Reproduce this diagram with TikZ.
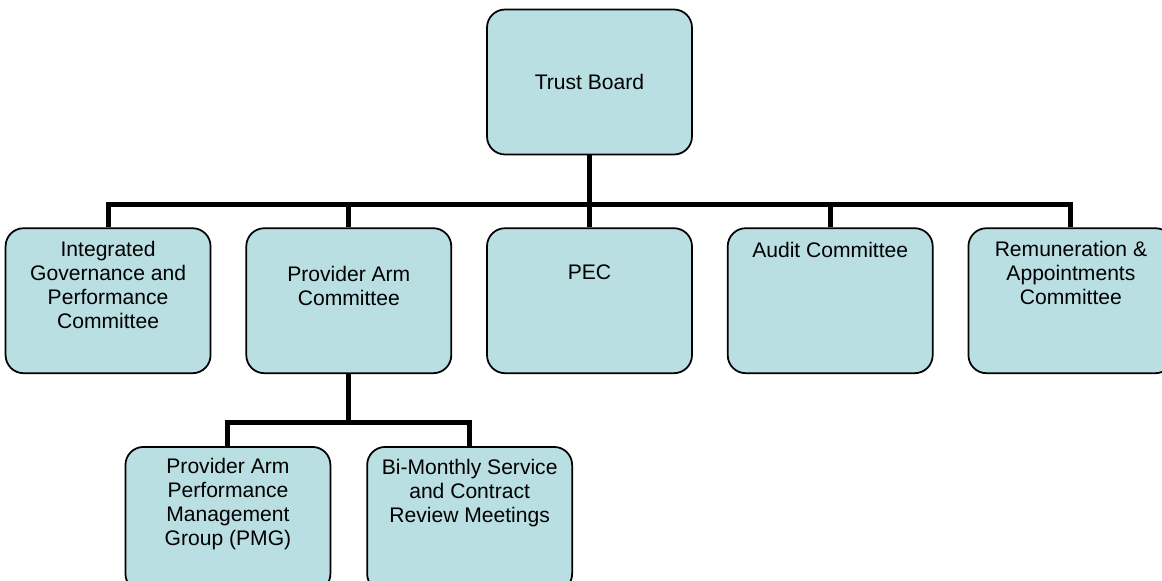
\documentclass[tikz,border=0pt]{standalone}
\usepackage{fontspec}
\setmainfont{Liberation Sans}
\usetikzlibrary{positioning,calc}
\definecolor{boardblue}{RGB}{185,223,227}

\begin{document}
\begin{tikzpicture}[
  x=0.02cm, y=-0.02cm,
  node distance=1.44cm and 0.68cm,
  every node/.style={font=\fontsize{12}{13.7}\selectfont},
  unit/.style={rectangle,rounded corners=0.36cm,draw=black,line width=1pt,
    fill=boardblue,minimum width=4.1cm,minimum height=2.9cm,inner sep=0pt},
  caption/.style={align=center,inner sep=0pt},
  link/.style={line width=2.8pt,black}
]
\clip (0,0) rectangle (1162,581);
\node[unit] (board) at (589.5,82) {Trust Board};
\node[unit,below=of board] (pec) {};
\node[unit,left=of pec] (pac) {};
\node[unit,left=of pac] (igpc) {};
\node[unit,right=of pec] (audit) {};
\node[unit,right=of audit] (remun) {};
\node[unit,below left=1.44cm and 0.35cm of pac.south,anchor=north east] (pmg) {};
\node[unit,below right=1.44cm and 0.35cm of pac.south,anchor=north west] (review) {};

\node[caption,below=0.27cm of igpc.north] (igpc-t) {Integrated\\Governance and\\Performance\\Committee};
\node[caption,below=0.77cm of pac.north] (pac-t) {Provider Arm\\Committee};
\node[caption,below=0.75cm of pec.north] (pec-t) {PEC};
\node[caption,below=0.29cm of audit.north] (audit-t) {Audit Committee};
\node[caption,below=0.27cm of remun.north] (remun-t) {Remuneration \&\\Appointments\\Committee};
\node[caption,below=0.23cm of pmg.north] (pmg-t) {Provider Arm\\Performance\\Management\\Group (PMG)};
\node[caption,below=0.25cm of review.north] (review-t) {Bi-Monthly Service\\and Contract\\Review Meetings};

\coordinate (bus) at ($(board.south)!0.68!(pec.north)$);
\coordinate (subbus) at ($(pac.south)!0.667!(pmg.north)$);
\foreach \n in {igpc,pac,pec,audit,remun}
  \draw[link] (board.south) |- (bus -| \n.north) -- (\n.north);
\foreach \n in {pmg,review}
  \draw[link] (pac.south) |- (subbus -| \n.north) -- (\n.north);
\end{tikzpicture}
\end{document}
